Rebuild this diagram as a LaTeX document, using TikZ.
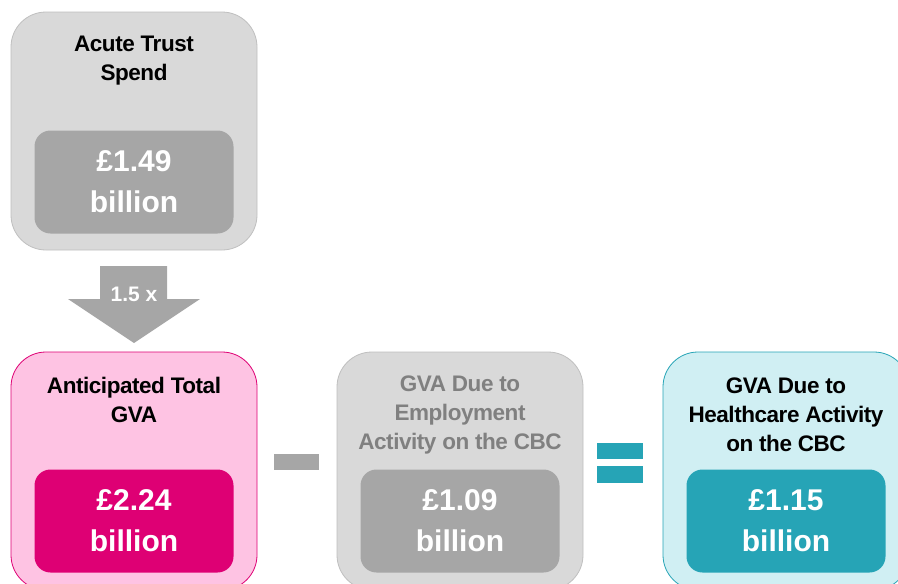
\documentclass[tikz,border=0pt]{standalone}
\usepackage{fontspec}
\setmainfont{Liberation Sans}
\definecolor{boxgray}{HTML}{D9D9D9}
\definecolor{bordergray}{HTML}{BFBFBF}
\definecolor{midgray}{HTML}{A6A6A6}
\definecolor{textgray}{HTML}{808080}
\definecolor{pinklight}{HTML}{FEC3E3}
\definecolor{pinkdark}{HTML}{DE0074}
\definecolor{tealdark}{HTML}{26A4B6}
\definecolor{teallight}{HTML}{D0EFF3}
\tikzset{
  outerbox/.style={rounded corners=35pt, minimum width=246pt, minimum height=238pt, line width=0.8pt, inner sep=0pt},
  innerbox/.style={rounded corners=16pt, minimum width=199pt, minimum height=103pt, inner sep=0pt},
  titletext/.style={font=\fontsize{22.5}{29}\selectfont\bfseries\addfontfeatures{LetterSpace=-2}, align=center},
  valuetext/.style={font=\fontsize{30}{41}\selectfont\bfseries, text=white, align=center},
}
\begin{document}
\begin{tikzpicture}[x=1pt,y=-1pt]
\useasboundingbox (0,0) rectangle (898,584);
\clip (0,0) rectangle (898,584);
% top box
\node[outerbox, fill=boxgray, draw=bordergray] (spend) at (134,131) {};
\node[innerbox, fill=midgray] (spendv) at (134,182) {};
\node[titletext] (spendt) at (134,61) {Acute Trust\\Spend};
\node[valuetext] at (spendv) {£1.49\\billion};
% arrow
\fill[midgray] (100,266) -- (167,266) -- (167,299) -- (200,299) -- (134,343) -- (68,299) -- (100,299) -- cycle;
\node[font=\fontsize{21}{24}\selectfont\bfseries, text=white] (mult) at (134,294) {1.5 x};
% bottom left
\node[outerbox, fill=pinklight, draw=pinkdark] (total) at (134,471) {};
\node[innerbox, fill=pinkdark] (totalv) at (134,521) {};
\node[titletext] (totalt) at (134,400) {Anticipated Total\\GVA};
\node[valuetext] at (totalv) {£2.24\\billion};
% minus
\node[fill=midgray, minimum width=45pt, minimum height=16pt, inner sep=0pt] (minus) at (296.5,462) {};
% middle
\node[outerbox, fill=boxgray, draw=bordergray] (emp) at (460,471) {};
\node[innerbox, fill=midgray] (empv) at (460,521) {};
\node[titletext, text=textgray] (empt) at (460,415) {GVA Due to\\Employment\\Activity on the CBC};
\node[valuetext] at (empv) {£1.09\\billion};
% equals
\node[fill=tealdark, minimum width=46pt, minimum height=16pt, inner sep=0pt] (eqa) at (620,451) {};
\node[fill=tealdark, minimum width=46pt, minimum height=17pt, inner sep=0pt] (eqb) at (620,474.5) {};
% right
\node[outerbox, fill=teallight, draw=tealdark] (health) at (786,471) {};
\node[innerbox, fill=tealdark] (healthv) at (786,521) {};
\node[titletext] (healtht) at (786,415) {GVA Due to\\Healthcare Activity\\on the CBC};
\node[valuetext] at (healthv) {£1.15\\billion};
\end{tikzpicture}
\end{document}
